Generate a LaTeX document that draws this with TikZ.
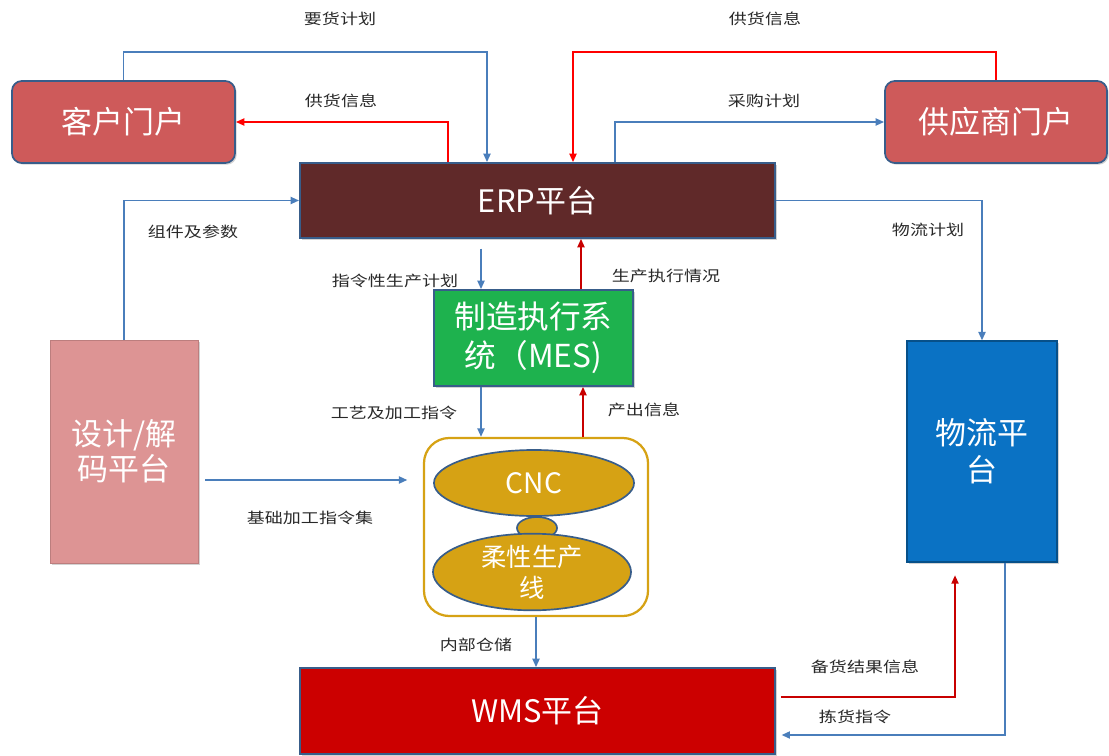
\documentclass[tikz,border=0pt]{standalone}
\usepackage{fontspec}
\setmainfont{Noto Sans CJK SC}
\newfontfamily\labfont[FakeStretch=1.22]{Noto Sans CJK SC}
\usetikzlibrary{arrows.meta,shapes.geometric,shadows}
\definecolor{lblue}{RGB}{74,126,187}
\definecolor{lred}{RGB}{255,0,0}
\definecolor{dred}{RGB}{200,0,0}
\definecolor{bord}{RGB}{56,93,138}
\definecolor{portal}{RGB}{206,90,90}
\definecolor{erpc}{RGB}{96,41,41}
\definecolor{mesc}{RGB}{30,178,78}
\definecolor{sjc}{RGB}{221,148,148}
\definecolor{wlc}{RGB}{10,114,196}
\definecolor{wmsc}{RGB}{204,0,0}
\definecolor{goldc}{RGB}{214,162,20}
\definecolor{labc}{RGB}{40,40,40}
\tikzset{
  box/.style={draw=bord,line width=1.2pt,text=white,align=center,inner sep=0pt,
    drop shadow={shadow xshift=1.2pt,shadow yshift=-1.2pt,opacity=0.35}},
  rbox/.style={box,rounded corners=7pt},
  ell/.style={ellipse,draw=bord,line width=1.2pt,fill=goldc,text=white,align=center,inner sep=0pt},
  bigtxt/.style={font=\fontsize{22}{25}\selectfont},
  lab/.style={text=labc,font=\labfont\fontsize{10.5}{12}\selectfont,inner sep=1pt},
  conn/.style={line width=1.3pt,-{Triangle[length=6pt,width=5pt]}},
  bl/.style={conn,draw=lblue},
  rd/.style={conn,draw=lred},
  dr/.style={conn,draw=dred},
}
\begin{document}
\begin{tikzpicture}[x=0.025cm,y=-0.025cm]
\useasboundingbox (0,0) rectangle (1109,755);
% nodes
\node[rbox,fill=portal,bigtxt,minimum width=5.575cm,minimum height=2.05cm] (kh) at (123.5,122) {客户门户};
\node[rbox,fill=portal,bigtxt,minimum width=5.55cm,minimum height=2.05cm] (gys) at (996,122) {供应商门户};
\node[box,fill=erpc,bigtxt,minimum width=11.875cm,minimum height=1.875cm] (erp) at (537.5,200.5) {ERP平台};
\node[box,fill=mesc,font=\fontsize{22.5}{28}\selectfont,minimum width=4.975cm,minimum height=2.4cm] (mes) at (533.5,338) {制造执行系\\统（MES)};
\node[box,draw=sjc!85!black,line width=0.6pt,fill=sjc,bigtxt,minimum width=3.7cm,minimum height=5.575cm] (sj) at (124,451.5) {设计/解\\码平台};
\node[box,draw=wlc!70!black,line width=0.8pt,fill=wlc,font=\fontsize{22}{26}\selectfont,minimum width=3.75cm,minimum height=5.525cm] (wl) at (982,451.5) {物流平\\台};
\node[draw=goldc,line width=1.6pt,fill=white,rounded corners=18pt,minimum width=5.6cm,minimum height=4.45cm] (cbox) at (536,527) {};
\node[ell,minimum width=5cm,minimum height=1.65cm,font=\fontsize{20}{24}\selectfont] (cnc) at (534,483) {CNC};
\node[ell,minimum width=1cm,minimum height=0.55cm] (mid) at (537,528) {};
\node[ell,minimum width=4.95cm,minimum height=1.65cm,font=\fontsize{18}{22}\selectfont] (rx) at (532,572) {柔性生产\\线};
\node[box,fill=wmsc,bigtxt,minimum width=11.875cm,minimum height=2.15cm] (wms) at (537.5,711) {WMS平台};
% connectors
\draw[bl] (kh.north) |- (487,52) -- (erp.north -| 487,0);
\draw[rd] (gys.north) |- (573,52) -- (erp.north -| 573,0);
\draw[rd] (erp.north -| 448,0) |- (kh.east);
\draw[bl] (erp.north -| 615,0) |- (gys.west);
\draw[bl] (sj.north) |- (erp.west);
\draw[bl] (erp.east) -| (wl.north);
\draw[bl,shorten <=7pt] (erp.south -| 481,0) -- (mes.north -| 481,0);
\draw[dr] (mes.north -| 581,0) -- (erp.south -| 581,0);
\draw[bl] (mes.south -| 481,0) -- (cbox.north -| 481,0);
\draw[dr] (cbox.north -| 583,0) -- (mes.south -| 583,0);
\draw[bl,shorten <=5pt,shorten >=11pt] (sj.east |- 0,480) -- (cbox.west |- 0,480);
\draw[bl] (cbox.south) -- (wms.north -| cbox.south);
\draw[dr,shorten <=3.5pt,shorten >=9pt] (wms.east |- 0,697) -| (wl.south -| 955,0);
\draw[bl,shorten >=4pt] (wl.south -| 1005,0) |- (wms.east |- 0,735);
% labels
\node[lab] (l1) at (340,19) {要货计划};
\node[lab] (l2) at (765,19) {供货信息};
\node[lab] (l3) at (341,101) {供货信息};
\node[lab] (l4) at (764,101) {采购计划};
\node[lab] (l5) at (193,232) {组件及参数};
\node[lab] (l6) at (928,230) {物流计划};
\node[lab] (l7) at (395,281) {指令性生产计划};
\node[lab] (l8) at (666,276) {生产执行情况};
\node[lab] (l9) at (394,413) {工艺及加工指令};
\node[lab] (l10) at (644,410) {产出信息};
\node[lab] (l11) at (310,518) {基础加工指令集};
\node[lab] (l12) at (476,645) {内部仓储};
\node[lab] (l13) at (865,667) {备货结果信息};
\node[lab] (l14) at (855,717) {拣货指令};
\end{tikzpicture}
\end{document}
